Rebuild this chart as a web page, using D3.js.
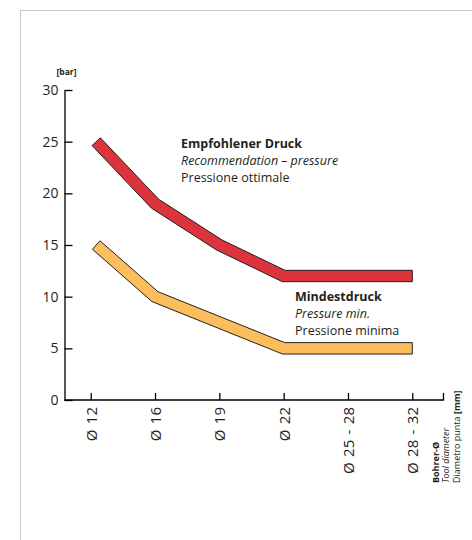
<!DOCTYPE html>
<html>
<head>
<meta charset="utf-8">
<script src="https://cdn.jsdelivr.net/npm/d3@7"></script>
<style>
  html, body { margin: 0; padding: 0; background: #ffffff; }
  #chart { width: 472px; height: 540px; }
  #chart text { font-family: 'Open Sans', sans-serif; fill: #231f20; }
</style>
</head>
<body>
<div id="chart"></div>
<script>
/* ── data ─────────────────────────────────────────────── */
const categories  = ["Ø 12", "Ø 16", "Ø 19", "Ø 22", "Ø 25 - 28", "Ø 28 - 32"];
const recommended = [25, 19, 15, 12, 12, 12];
const minimum     = [15, 10, 7.5, 5, 5, 5];
const yTicks      = [0, 5, 10, 15, 20, 25, 30];

const recLabel = ["Empfohlener Druck", "Recommendation – pressure", "Pressione ottimale"];
const minLabel = ["Mindestdruck", "Pressure min.", "Pressione minima"];
const xTitle   = ["Bohrer-Ø", "Tool diameter", "Diametro punta "];

/* ── setup ────────────────────────────────────────────── */
const W = 472, H = 540;
const svg = d3.select("#chart").append("svg")
  .attr("width", W).attr("height", H);

// light grey frame, open to the right and bottom
svg.append("path")
  .attr("d", `M20.5,${H} V10.5 H${W}`)
  .attr("fill", "none")
  .attr("stroke", "#c8c8c8")
  .attr("stroke-width", 1);

const axisX0 = 64.5, axisX1 = 443.5;
const y = d3.scaleLinear().domain([0, 30]).range([400, 90]);
const x = d3.scalePoint().domain(categories).range([90.7, 412.3]);

/* ── axes ─────────────────────────────────────────────── */
const yAxis = svg.append("g")
  .attr("transform", `translate(${axisX0},0)`)
  .call(d3.axisLeft(y).tickValues(yTicks).tickSize(-8).tickSizeOuter(0).tickPadding(6));
yAxis.selectAll("text").style("font-size", "14px");

const xAxis = svg.append("g")
  .attr("transform", `translate(0,${y(0)})`)
  .call(d3.axisBottom(x).tickSize(-7).tickSizeOuter(0));
xAxis.select(".domain").remove();
xAxis.selectAll("text")
  .attr("transform", "rotate(-90)")
  .attr("text-anchor", "end")
  .attr("x", -7)
  .attr("y", 0)
  .attr("dy", "0.36em")
  .style("font-size", "15px")
  .style("word-spacing", "1.5px");

// x baseline running past the last category, with an end tick
svg.append("path")
  .attr("d", `M${axisX0},${y(0)} H${axisX1} V${y(0) - 7}`)
  .attr("fill", "none")
  .attr("stroke", "#000")
  .attr("stroke-width", 1.3);
svg.selectAll(".domain, .tick line").attr("stroke", "#000").attr("stroke-width", 1.3);

svg.append("text")
  .attr("x", 66.5).attr("y", 75)
  .attr("text-anchor", "middle")
  .style("font-size", "8.5px").style("font-weight", "700")
  .text("[bar]");

// axis title, three rotated lines
const xt = svg.append("g").attr("transform", `translate(438.5,483) rotate(-90)`);
xTitle.forEach((t, i) => {
  const tx = xt.append("text").attr("x", 0).attr("y", i * 10.5).style("font-size", "9px");
  if (i === 0) tx.style("font-weight", "700").text(t);
  else if (i === 1) tx.style("font-style", "italic").text(t);
  else { tx.text(t); tx.append("tspan").style("font-weight", "700").text("[mm]"); }
});

/* ── pressure bands ───────────────────────────────────── */
// thick polyline turned into an outlined polygon (miter joins, butt caps)
function bandOutline(pts, hw) {
  const n = pts.length, normals = [];
  for (let i = 0; i < n - 1; i++) {
    const dx = pts[i + 1][0] - pts[i][0], dy = pts[i + 1][1] - pts[i][1];
    const len = Math.hypot(dx, dy);
    normals.push([-dy / len, dx / len]);
  }
  const left = [], right = [];
  pts.forEach((p, i) => {
    let m;
    if (i === 0) m = normals[0];
    else if (i === n - 1) m = normals[n - 2];
    else {
      const a = normals[i - 1], b = normals[i], s = 1 + a[0] * b[0] + a[1] * b[1];
      m = [(a[0] + b[0]) / s, (a[1] + b[1]) / s];
    }
    left.push([p[0] + m[0] * hw, p[1] + m[1] * hw]);
    right.push([p[0] - m[0] * hw, p[1] - m[1] * hw]);
  });
  return left.concat(right.reverse());
}

const startInset = 5.5;
function drawBand(values, color) {
  const pts = values.map((v, i) => [x(categories[i]) + (i === 0 ? startInset : 0), y(v)]);
  svg.append("path")
    .attr("d", d3.line()(bandOutline(pts, 5.7)) + "Z")
    .attr("fill", color)
    .attr("stroke", "#231f20")
    .attr("stroke-width", 1)
    .attr("stroke-linejoin", "miter");
}
drawBand(recommended, "#db343d");
drawBand(minimum, "#fcbe5c");

/* ── labels ───────────────────────────────────────────── */
function drawLabel(lines, lx, ly) {
  lines.forEach((t, i) => {
    svg.append("text")
      .attr("x", lx).attr("y", ly + i * 17)
      .style("font-size", "12.5px")
      .style("font-weight", i === 0 ? "700" : "400")
      .style("font-style", i === 1 ? "italic" : "normal")
      .text(t);
  });
}
drawLabel(recLabel, 181, 148.3);
drawLabel(minLabel, 295, 301);
</script>
</body>
</html>
